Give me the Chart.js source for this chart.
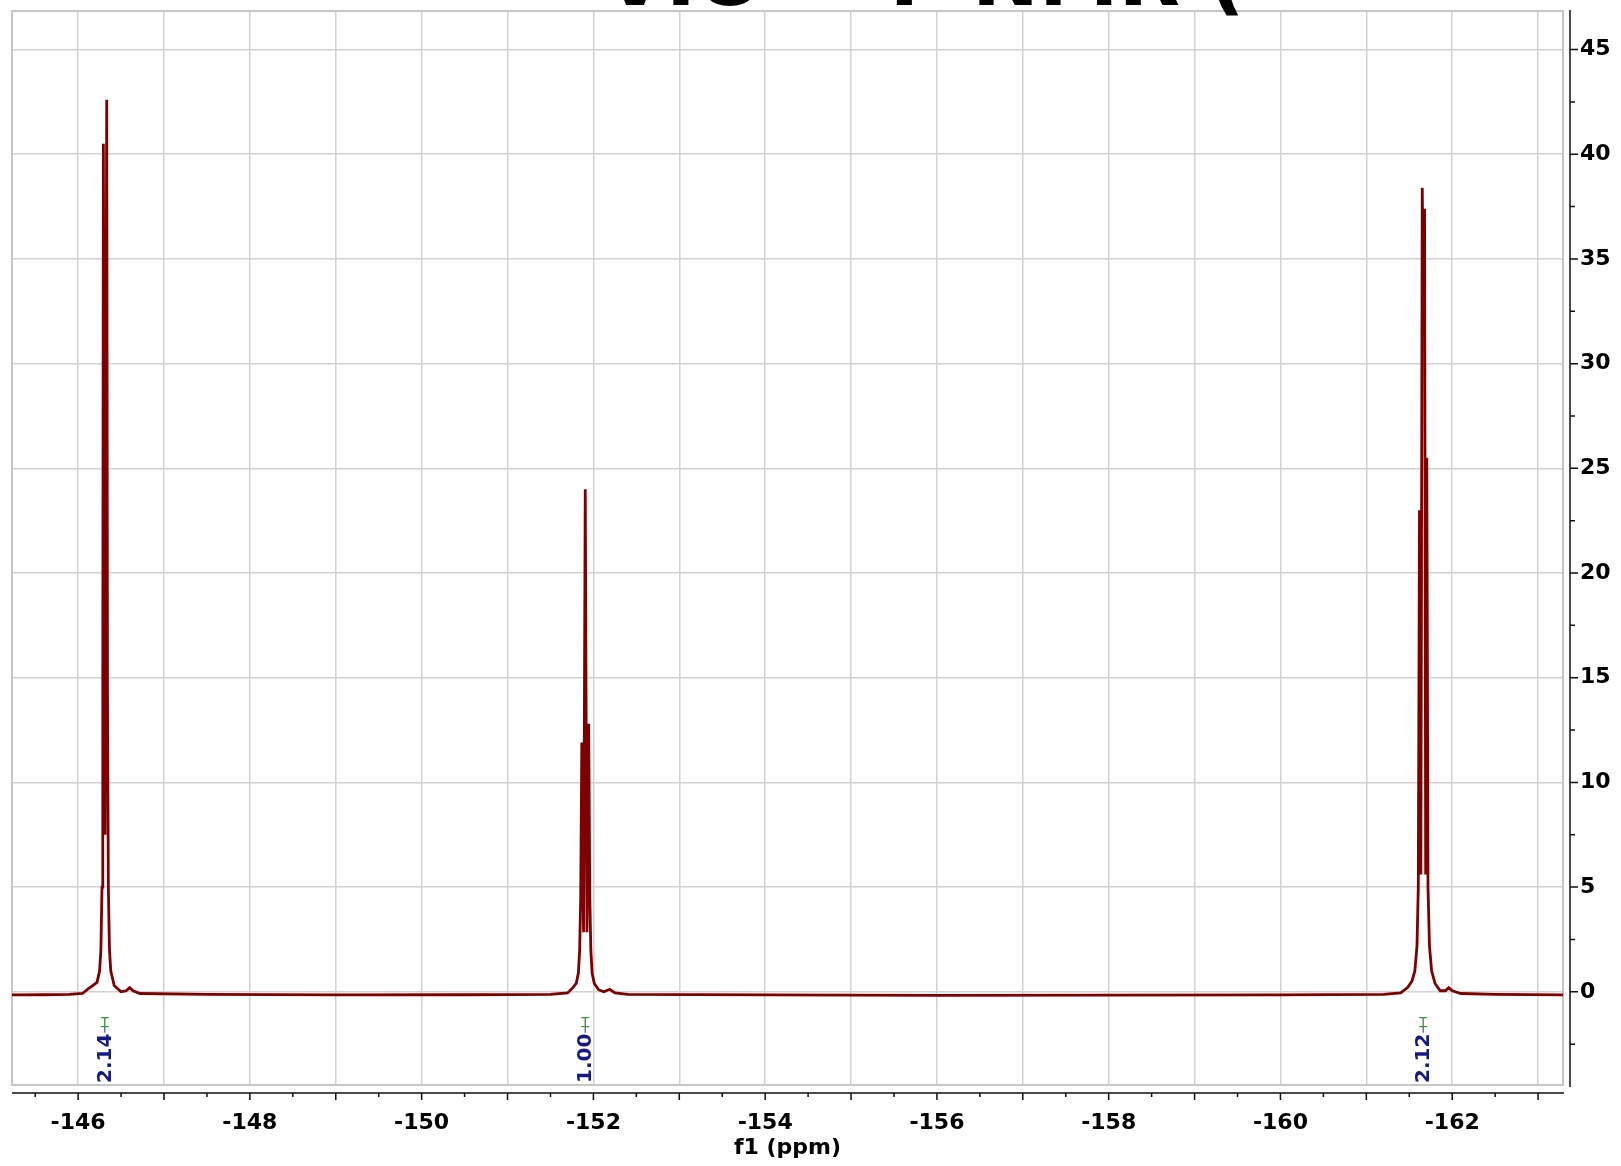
<!DOCTYPE html>
<html>
<head>
<meta charset="utf-8">
<title>19F NMR</title>
<script src="https://cdn.jsdelivr.net/npm/chart.js@4.4.1/dist/chart.umd.min.js"></script>
<style>
  html, body { margin: 0; padding: 0; background: #fff; }
  canvas { display: block; }
</style>
</head>
<body>
<canvas id="nmr" width="1621" height="1166"></canvas>
<script>
// =================== DATA ===================
// chemical shift (ppm) and intensity
const shifts = [
  -145.23, -145.60, -145.90, -146.05, -146.12, -146.17, -146.22, -146.25, -146.265, -146.278,
  -146.287, -146.294, -146.313, -146.333, -146.342, -146.352, -146.365, -146.38, -146.42, -146.50,
  -146.56, -146.60, -146.64, -146.72, -147.50, -149.00, -150.50, -151.50, -151.70, -151.76,
  -151.80, -151.825, -151.84, -151.852, -151.865, -151.885, -151.905, -151.925, -151.945, -151.958,
  -151.97, -151.985, -152.01, -152.06, -152.12, -152.19, -152.25, -152.40, -154.00, -156.00,
  -158.00, -160.00, -161.20, -161.40, -161.48, -161.53, -161.565, -161.59, -161.605, -161.619,
  -161.635, -161.651, -161.665, -161.678, -161.691, -161.704, -161.718, -161.735, -161.76, -161.80,
  -161.86, -161.92, -161.96, -162.00, -162.10, -162.50, -163.29
];
const intensity = [
  -0.15, -0.14, -0.12, -0.08, 0.15, 0.3, 0.45, 1.0, 2.0, 5.0,
  14.0, 40.5, 7.5, 42.6, 14.0, 5.0, 2.0, 1.0, 0.3, 0.0,
  0.05, 0.2, 0.05, -0.08, -0.12, -0.15, -0.14, -0.12, -0.05, 0.2,
  0.4, 0.9, 2.0, 4.5, 11.9, 2.85, 24.0, 2.85, 12.8, 4.5,
  2.0, 0.9, 0.4, 0.1, 0.0, 0.12, -0.05, -0.12, -0.15, -0.17,
  -0.16, -0.15, -0.12, -0.05, 0.2, 0.5, 1.0, 2.2, 5.0, 23.0,
  5.6, 38.4, 33.0, 37.4, 5.6, 25.5, 5.0, 2.2, 1.0, 0.4,
  0.05, 0.05, 0.2, 0.05, -0.08, -0.12, -0.15
];

// integrals under the multiplets
const integralCenters = [-146.31, -151.905, -161.662];
const integralValues = ["2.14", "1.00", "2.12"];

// axes
const X_MIN = -163.29, X_MAX = -145.23;
const Y_MIN = -4.45, Y_MAX = 46.84;
const xGridValues = [-163, -162, -161, -160, -159, -158, -157, -156, -155, -154, -153, -152, -151, -150, -149, -148, -147, -146];
const xTickLabels = [-162, -160, -158, -156, -154, -152, -150, -148, -146];
const xMinorTicks = [-162.5, -161.5, -160.5, -159.5, -158.5, -157.5, -156.5, -155.5, -154.5, -153.5, -152.5, -151.5, -150.5, -149.5, -148.5, -147.5, -146.5, -145.5];
const yTickValues = [0, 5, 10, 15, 20, 25, 30, 35, 40, 45];
const yMinorTicks = [-2.5, 2.5, 7.5, 12.5, 17.5, 22.5, 27.5, 32.5, 37.5, 42.5];

const TITLE_PRE = "VIO  \u00b9\u2079F ";
const TITLE_TEXT = TITLE_PRE + "NMR (";

// =================== STYLE ===================
const FONT = "'DejaVu Sans', Verdana, sans-serif";
const SPEC_COLOR = "#7c0000";
const GRID_COLOR = "#d2d2d2";

// =================== PLUGIN: frame, axes, integrals, title ===================
const nmrDecor = {
  id: "nmrDecor",
  beforeDatasetsDraw(chart) {
    const { ctx, chartArea: a } = chart;
    ctx.save();
    ctx.strokeStyle = "#c6c6c6";
    ctx.lineWidth = 2;
    ctx.strokeRect(a.left, a.top, a.right - a.left, a.bottom - a.top);
    ctx.restore();
  },
  afterDraw(chart) {
    const { ctx, chartArea: a, scales } = chart;
    const xs = scales.x, ys = scales.y;
    ctx.save();

    // right y axis
    const axX = a.right + 7;
    ctx.strokeStyle = "#111";
    ctx.lineWidth = 1.5;
    ctx.beginPath();
    ctx.moveTo(axX, a.top - 1);
    ctx.lineTo(axX, a.bottom + 2);
    yTickValues.forEach(v => { const p = ys.getPixelForValue(v); ctx.moveTo(axX, p); ctx.lineTo(axX + 8, p); });
    yMinorTicks.forEach(v => { const p = ys.getPixelForValue(v); ctx.moveTo(axX, p); ctx.lineTo(axX + 5, p); });
    ctx.stroke();

    // bottom x axis
    const axY = a.bottom + 8;
    ctx.beginPath();
    ctx.moveTo(a.left, axY);
    ctx.lineTo(a.right + 1, axY);
    xGridValues.forEach(v => { const p = xs.getPixelForValue(v); ctx.moveTo(p, axY); ctx.lineTo(p, axY + 7); });
    xMinorTicks.forEach(v => { const p = xs.getPixelForValue(v); ctx.moveTo(p, axY); ctx.lineTo(p, axY + 4); });
    ctx.stroke();

    // integrals
    ctx.font = "bold 20px " + FONT;
    integralCenters.forEach((c, i) => {
      const px = xs.getPixelForValue(c);
      const txt = integralValues[i];
      const w = ctx.measureText(txt).width;
      const bottom = a.bottom - 2;
      const top = bottom - w;
      ctx.save();
      ctx.translate(px, bottom);
      ctx.rotate(-Math.PI / 2);
      ctx.fillStyle = "#141a82";
      ctx.textAlign = "left";
      ctx.textBaseline = "middle";
      ctx.fillText(txt, 0, 1);
      ctx.restore();
      ctx.strokeStyle = "#4a5a8a";
      ctx.lineWidth = 1.2;
      ctx.beginPath();
      ctx.moveTo(px, top - 1);
      ctx.lineTo(px, top - 7);
      ctx.stroke();
      ctx.strokeStyle = "#3a9a3a";
      ctx.lineWidth = 1.4;
      ctx.beginPath();
      ctx.moveTo(px, top - 7); ctx.lineTo(px, top - 16);
      ctx.moveTo(px - 4, top - 7); ctx.lineTo(px + 4, top - 7);
      ctx.moveTo(px - 4, top - 16); ctx.lineTo(px + 4, top - 16);
      ctx.stroke();
    });

    // big title, mostly outside the picture
    ctx.fillStyle = "#000";
    ctx.font = "bold 80px " + FONT;
    ctx.textAlign = "left";
    ctx.textBaseline = "alphabetic";
    const pre = ctx.measureText(TITLE_PRE).width;
    ctx.fillText(TITLE_TEXT, 972 - pre, 5);
    ctx.restore();
  }
};

// =================== CHART ===================
const points = shifts.map((x, i) => ({ x, y: intensity[i] }));
const tickFont = { family: FONT, size: 22, weight: "bold" };

new Chart(document.getElementById("nmr").getContext("2d"), {
  type: "line",
  data: {
    datasets: [{
      data: points,
      borderColor: SPEC_COLOR,
      borderWidth: 2.8,
      pointRadius: 0,
      tension: 0,
      fill: false
    }]
  },
  options: {
    responsive: false,
    animation: false,
    layout: { padding: { top: 11, left: 12, right: 11, bottom: 5 } },
    plugins: { legend: { display: false }, tooltip: { enabled: false } },
    scales: {
      x: {
        type: "linear",
        reverse: true,
        min: X_MIN,
        max: X_MAX,
        afterBuildTicks: ax => { ax.ticks = xGridValues.map(v => ({ value: v })); },
        afterFit: ax => { ax.height = 76; ax.paddingLeft = 0; ax.paddingRight = 0; },
        ticks: {
          autoSkip: false,
          maxRotation: 0,
          padding: 25,
          color: "#000",
          font: tickFont,
          callback: v => xTickLabels.includes(v) ? String(v) : ""
        },
        grid: { color: GRID_COLOR, lineWidth: 1.5, drawTicks: false },
        border: { display: false },
        title: { display: true, text: "f1 (ppm)", color: "#000", font: tickFont, padding: 0 }
      },
      y: {
        position: "right",
        min: Y_MIN,
        max: Y_MAX,
        afterBuildTicks: ax => { ax.ticks = yTickValues.map(v => ({ value: v })); },
        afterFit: ax => { ax.width = 47; ax.paddingTop = 0; ax.paddingBottom = 0; },
        ticks: { padding: 17, color: "#000", font: tickFont },
        grid: { color: GRID_COLOR, lineWidth: 1.5, drawTicks: false },
        border: { display: false }
      }
    }
  },
  plugins: [nmrDecor]
});
</script>
</body>
</html>
